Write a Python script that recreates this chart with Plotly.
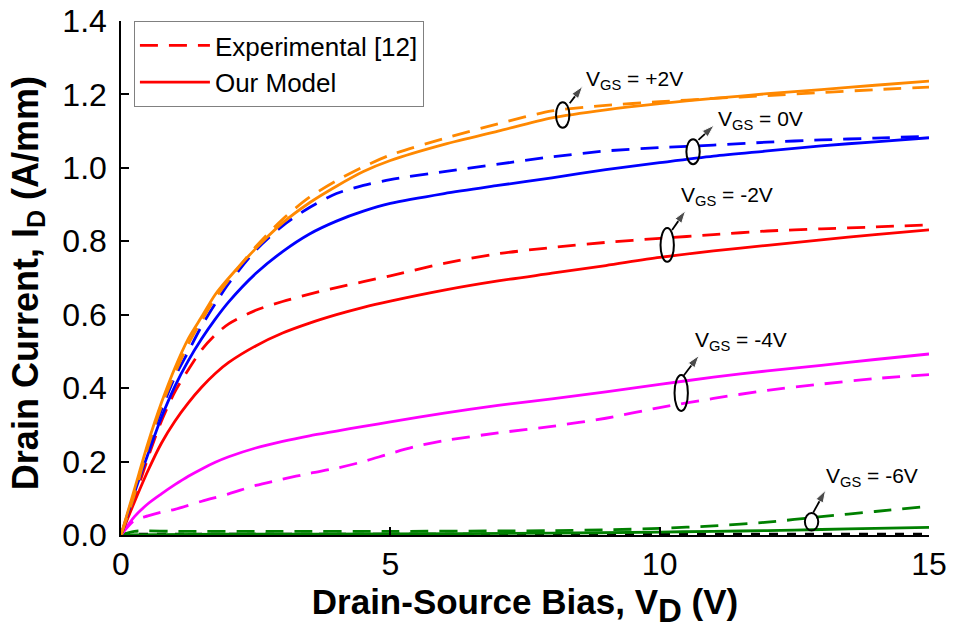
import plotly.graph_objects as go

# ---------------- data ----------------
# V_GS = +2 V (orange)
vd_p2_model = [0, 0.25, 0.5, 0.75, 1, 1.25, 1.5, 1.75, 2, 2.5, 3, 3.5, 4, 4.5, 5, 6, 7, 8, 9, 10, 11, 12, 13, 14, 15]
id_p2_model = [0, 0.125, 0.25, 0.36, 0.455, 0.535, 0.595, 0.655, 0.70, 0.78, 0.85, 0.905, 0.95, 0.99, 1.02, 1.064, 1.10, 1.136, 1.158, 1.175, 1.189, 1.202, 1.213, 1.225, 1.236]
vd_p2_exp = [0, 0.25, 0.5, 0.75, 1, 1.25, 1.5, 1.75, 2, 2.5, 3, 3.5, 4, 4.5, 5, 6, 7, 8, 9, 10, 11, 12, 13, 14, 15]
id_p2_exp = [0, 0.11, 0.24, 0.35, 0.44, 0.52, 0.585, 0.645, 0.695, 0.785, 0.86, 0.92, 0.965, 1.003, 1.035, 1.08, 1.12, 1.155, 1.17, 1.18, 1.189, 1.197, 1.205, 1.213, 1.22]

# V_GS = 0 V (blue)
vd_0_model = [0, 0.25, 0.5, 0.75, 1, 1.25, 1.5, 1.75, 2, 2.5, 3, 3.5, 4, 4.5, 5, 6, 7, 8, 9, 10, 11, 12, 13, 14, 15]
id_0_model = [0, 0.115, 0.22, 0.32, 0.405, 0.475, 0.535, 0.588, 0.635, 0.712, 0.772, 0.82, 0.855, 0.882, 0.903, 0.93, 0.952, 0.973, 0.995, 1.014, 1.032, 1.046, 1.06, 1.071, 1.082]
vd_0_exp = [0, 0.25, 0.5, 0.75, 1, 1.25, 1.5, 1.75, 2, 2.5, 3, 3.5, 4, 4.5, 5, 6, 7, 8, 9, 10, 11, 12, 13, 14, 15]
id_0_exp = [0, 0.11, 0.235, 0.34, 0.43, 0.50, 0.57, 0.63, 0.685, 0.775, 0.842, 0.892, 0.93, 0.952, 0.968, 0.99, 1.01, 1.03, 1.046, 1.055, 1.062, 1.07, 1.076, 1.081, 1.086]

# V_GS = -2 V (red)
vd_m2_model = [0, 0.25, 0.5, 0.75, 1, 1.25, 1.5, 1.75, 2, 2.5, 3, 3.5, 4, 4.5, 5, 6, 7, 8, 9, 10, 11, 12, 13, 14, 15]
id_m2_model = [0, 0.09, 0.175, 0.25, 0.31, 0.36, 0.403, 0.44, 0.47, 0.515, 0.55, 0.577, 0.60, 0.62, 0.637, 0.667, 0.692, 0.713, 0.734, 0.756, 0.774, 0.789, 0.804, 0.818, 0.831]
vd_m2_exp = [0, 0.25, 0.5, 0.75, 1, 1.25, 1.5, 1.75, 2, 2.5, 3, 3.5, 4, 4.5, 5, 6, 7, 8, 9, 10, 11, 12, 13, 14, 15]
id_m2_exp = [0, 0.10, 0.21, 0.31, 0.39, 0.45, 0.505, 0.545, 0.575, 0.612, 0.636, 0.656, 0.674, 0.69, 0.706, 0.74, 0.766, 0.783, 0.797, 0.808, 0.818, 0.828, 0.834, 0.839, 0.845]

# V_GS = -4 V (magenta)
vd_m4_model = [0, 0.25, 0.5, 0.75, 1, 1.25, 1.5, 1.75, 2, 2.5, 3, 3.5, 4, 4.5, 5, 6, 7, 8, 9, 10, 11, 12, 13, 14, 15]
id_m4_model = [0, 0.05, 0.085, 0.112, 0.137, 0.16, 0.18, 0.198, 0.213, 0.237, 0.255, 0.27, 0.283, 0.296, 0.308, 0.332, 0.353, 0.371, 0.39, 0.41, 0.43, 0.447, 0.462, 0.478, 0.493]
vd_m4_exp = [0, 0.25, 0.5, 0.75, 1, 1.5, 2, 2.5, 3, 3.5, 4, 4.5, 5, 5.5, 6, 7, 8, 9, 10, 11, 12, 13, 14, 15]
id_m4_exp = [0, 0.04, 0.052, 0.062, 0.07, 0.092, 0.112, 0.135, 0.152, 0.168, 0.182, 0.20, 0.222, 0.242, 0.257, 0.278, 0.296, 0.318, 0.347, 0.372, 0.394, 0.411, 0.426, 0.437]

# V_GS = -6 V (green)
vd_m6_model = [0, 2, 5, 8, 10, 11, 12, 13, 14, 15]
id_m6_model = [0, 0.002, 0.003, 0.005, 0.008, 0.010, 0.012, 0.015, 0.018, 0.021]
vd_m6_exp = [0, 0.25, 1, 3, 5, 7, 8, 9, 10, 11, 12, 13, 14, 15]
id_m6_exp = [0, 0.01, 0.01, 0.01, 0.01, 0.011, 0.012, 0.014, 0.018, 0.025, 0.035, 0.05, 0.064, 0.078]

# baseline (black dashed)
vd_base = [0, 15]
id_base = [0.002, 0.002]

x_ticks = [0, 5, 10, 15]
y_ticks = [0.0, 0.2, 0.4, 0.6, 0.8, 1.0, 1.2, 1.4]

# label annotations: (ellipse centre V, ellipse centre I, half-height I, arrow tail, arrow head, label pos, text)
labels = [
    (8.20, 1.144, 0.035, (8.33, 1.176), (8.57, 1.222), (8.60, 1.240), "+2V"),
    (10.62, 1.044, 0.034, (10.72, 1.076), (11.01, 1.116), (11.04, 1.131), "0V"),
    (10.14, 0.790, 0.046, (10.23, 0.831), (10.48, 0.883), (10.36, 0.923), "-2V"),
    (10.40, 0.387, 0.049, (10.44, 0.433), (10.73, 0.489), (10.61, 0.529), "-4V"),
    (12.82, 0.036, 0.024, (12.85, 0.061), (13.08, 0.122), (13.05, 0.158), "-6V"),
]

ORANGE = "#FF8800"
BLUE = "#0000FF"
RED = "#FF0000"
MAGENTA = "#FF00FF"
GREEN = "#008000"
DASH = "18px,11px"
LW = 2.8
FONT = "Liberation Sans, Arial, sans-serif"

fig = go.Figure()

def add(x, y, color, dash, name, legend=False, rank=1000):
    fig.add_trace(go.Scatter(
        x=x, y=y, mode="lines",
        line=dict(color=color, width=LW, dash=dash, shape="spline", smoothing=0.8),
        name=name, showlegend=legend, legendrank=rank,
        hoverinfo="skip"))

add(vd_base, id_base, "black", "9px,9px", "baseline")
add(vd_m6_exp, id_m6_exp, GREEN, DASH, "Exp -6V")
add(vd_m6_model, id_m6_model, GREEN, "solid", "Model -6V")
add(vd_m4_exp, id_m4_exp, MAGENTA, DASH, "Exp -4V")
add(vd_m4_model, id_m4_model, MAGENTA, "solid", "Model -4V")
add(vd_m2_exp, id_m2_exp, RED, DASH, "Experimental [12]", True, 1)
add(vd_m2_model, id_m2_model, RED, "solid", "Our Model", True, 2)
add(vd_0_exp, id_0_exp, BLUE, DASH, "Exp 0V")
add(vd_0_model, id_0_model, BLUE, "solid", "Model 0V")
add(vd_p2_exp, id_p2_exp, ORANGE, DASH, "Exp +2V")
add(vd_p2_model, id_p2_model, ORANGE, "solid", "Model +2V")

hw = 0.124
for (xc, yc, hh, tail, head, lab, txt) in labels:
    fig.add_shape(type="circle", xref="x", yref="y",
                  x0=xc - hw, x1=xc + hw, y0=yc - hh, y1=yc + hh,
                  line=dict(color="black", width=2), layer="above")
    fig.add_trace(go.Scatter(
        x=[tail[0], head[0]], y=[tail[1], head[1]], mode="lines+markers",
        line=dict(color="black", width=1.8),
        marker=dict(symbol="arrow", size=[0, 13], angleref="previous", color="black"),
        name="arrow " + txt, showlegend=False, hoverinfo="skip"))
    fig.add_annotation(x=lab[0], y=lab[1], xref="x", yref="y",
                       text="V<sub>GS</sub> = " + txt, showarrow=False,
                       xanchor="left", yanchor="middle",
                       font=dict(family=FONT, size=21, color="black"))

# y-axis title, placed as a rotated annotation for exact positioning
fig.add_annotation(text="<b>Drain Current, I<sub>D</sub> (A/mm)</b>",
                   textangle=-90, xref="paper", yref="paper", x=0, y=0.49,
                   xanchor="center", yanchor="middle", xshift=-93,
                   showarrow=False, font=dict(family=FONT, size=36, color="black"))

fig.update_layout(
    width=953, height=633,
    margin=dict(l=121, r=24, t=21, b=98),
    paper_bgcolor="white", plot_bgcolor="white",
    font=dict(family=FONT, color="black"),
    legend=dict(x=0.016, y=1.0, xanchor="left", yanchor="top",
                bordercolor="#808080", borderwidth=1, bgcolor="white",
                font=dict(family=FONT, size=26, color="black"),
                itemwidth=70, tracegroupgap=0),
)

fig.update_xaxes(
    range=[0, 15], tickvals=x_ticks, ticktext=[str(v) for v in x_ticks],
    ticks="inside", ticklen=8, tickwidth=1.5, tickcolor="black",
    showline=True, linecolor="black", linewidth=1.5, mirror=False,
    showgrid=False, zeroline=False, automargin=False,
    ticklabeloverflow="allow",
    tickfont=dict(family=FONT, size=32, color="black"),
    title=dict(text="<b>Drain-Source Bias, V<sub><span style='font-size:33px'>D</span></sub> (V)</b>",
               font=dict(family=FONT, size=35, color="black"), standoff=4),
)
fig.update_yaxes(
    range=[0, 1.4], tickvals=y_ticks, ticktext=["%.1f" % v for v in y_ticks],
    ticks="inside", ticklen=8, tickwidth=1.5, tickcolor="black",
    showline=True, linecolor="black", linewidth=1.5, mirror=False,
    showgrid=False, zeroline=False, automargin=False,
    ticklabelstandoff=6, ticklabeloverflow="allow",
    tickfont=dict(family=FONT, size=32, color="black"),
)

# remove the default 8px page margin so the figure fills the 953x633 window
fig.write_html("out.html", config={"displayModeBar": False},
               post_script="document.body.style.margin='0px';")
